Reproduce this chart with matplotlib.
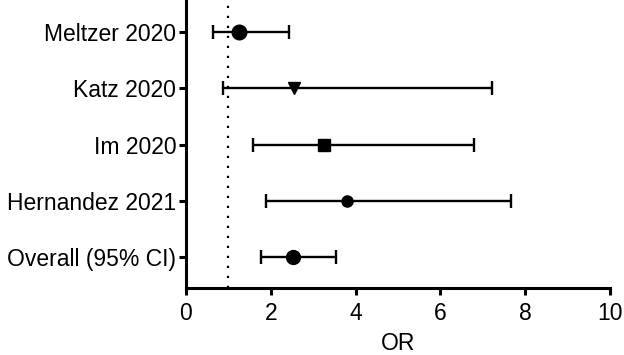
import matplotlib.pyplot as plt

plt.rcParams['font.family'] = ['Liberation Sans', 'DejaVu Sans']

studies = ['Meltzer 2020', 'Katz 2020', 'Im 2020', 'Hernandez 2021', 'Overall (95% CI)']
odds = [1.25, 2.54, 3.25, 3.81, 2.52]
lower = [0.63, 0.87, 1.57, 1.89, 1.77]
upper = [2.43, 7.22, 6.79, 7.66, 3.53]
markers = ['o', 'v', 's', 'o', 'o']
msizes = [10.5, 8, 8, 8, 10]

fig = plt.figure(figsize=(6.24, 3.55), dpi=100)
ax = fig.add_axes([0.298, 0.189, 0.6795, 0.811])

ypos = list(range(len(studies), 0, -1))
for i in range(len(studies)):
    ax.errorbar(odds[i], ypos[i],
                xerr=[[odds[i] - lower[i]], [upper[i] - odds[i]]],
                fmt=markers[i], color='black', markersize=msizes[i],
                elinewidth=1.7, capsize=5, capthick=1.7)

ax.axvline(1, color='black', linestyle=(0, (1, 3.5)), linewidth=1.6)

ax.set_xlim(0, 10)
ax.set_ylim(0.45, 5.57)
ax.set_xticks([0, 2, 4, 6, 8, 10])
ax.set_yticks(ypos)
ax.set_yticklabels(studies)
ax.set_xlabel('OR', fontsize=16.5, labelpad=5)
ax.tick_params(axis='both', labelsize=16.5, width=2.2, length=5)
ax.tick_params(axis='y', pad=2)
ax.tick_params(axis='x', pad=5)
ax.spines['top'].set_visible(False)
ax.spines['right'].set_visible(False)
ax.spines['left'].set_linewidth(2.2)
ax.spines['bottom'].set_linewidth(2.2)

fig.savefig('out.png', dpi=100)
